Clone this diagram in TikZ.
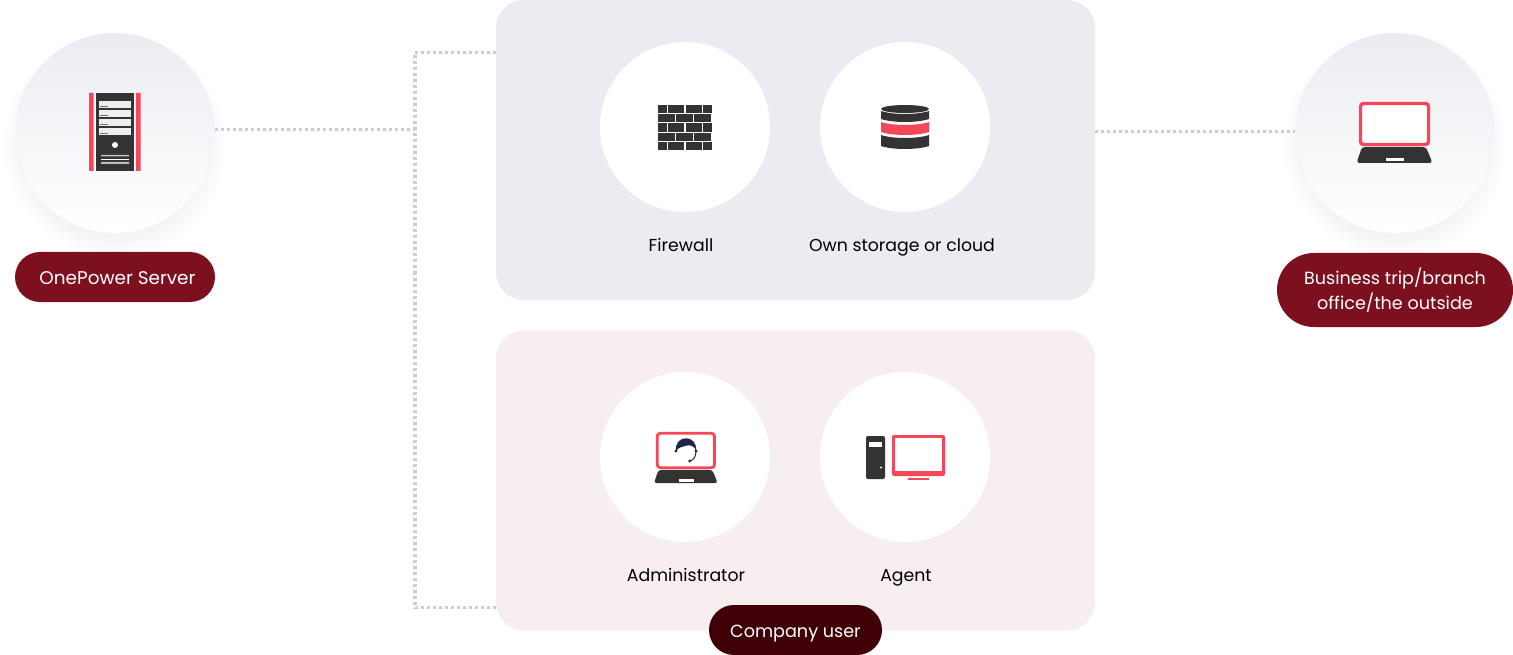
\documentclass[tikz,border=0pt]{standalone}
\usepackage{fontspec}
\setmainfont{Poppins}
\definecolor{PanelBlue}{HTML}{EBECF2}
\definecolor{PanelPink}{HTML}{F6EEEF}
\definecolor{PillRed}{HTML}{7D101F}
\definecolor{PillDark}{HTML}{3F0007}
\definecolor{IconRed}{HTML}{F44858}
\definecolor{IconDark}{HTML}{333333}
\definecolor{IconNavy}{HTML}{1F2547}
\definecolor{DotGrey}{HTML}{CDCDCD}
\tikzset{
  panel/.style={inner sep=0,outer sep=0,rounded corners=28pt,minimum width=599pt,minimum height=300pt},
  hubdisc/.style={circle,inner sep=0,outer sep=0,minimum size=200pt,top color=PanelBlue,bottom color=white},
  whitedisc/.style={circle,fill=white,inner sep=0,outer sep=0,minimum size=170pt},
  pill/.style={fill=PillRed,text=white,rounded corners=25pt,inner sep=0,outer sep=0,align=center,font=\fontsize{17.6}{25}\selectfont},
  caption/.style={text=black,inner sep=0,text height=13pt,text depth=4pt,font=\fontsize{17.3}{24}\selectfont},
  dotlink/.style={DotGrey,line width=3.2pt,dash pattern=on 3pt off 3pt}
}
% one laptop: origin at top left of the screen, 71 wide
\newcommand{\laptopicon}[3]{
  \begin{scope}[shift={(#1,#2)},scale=#3]
    \fill[white,draw=IconRed,line width=3.4pt*#3,rounded corners=3pt] (1.5,1.5) rectangle (69.5,42.5);
    \fill[IconDark,rounded corners=3pt] (3,45) -- (67,45) -- (73.5,61) -- (-2.5,61) -- cycle;
    \fill[white] (27,56.5) rectangle (45,59);
  \end{scope}}
% soft shadow under a big disc
\newcommand{\discshadow}[2]{
  \foreach \grow in {-8,-6,...,12}
    \fill[black,opacity=.005] (#1,#2+12) circle (100+\grow);
}
% one curved band of the storage drum
\newcommand{\drumband}[3]{
  \fill[#3] (881,#1) .. controls (893,#1+4) and (917,#1+4) .. (929,#1) -- (929,#2) .. controls (917,#2+4) and (893,#2+4) .. (881,#2) -- cycle;
}
\begin{document}
\begin{tikzpicture}[x=1pt,y=-1pt]
  \fill[white] (0,0) rectangle (1513,655);
  \useasboundingbox (0,0) rectangle (1513,655);
  \discshadow{115}{133}
  \discshadow{1395}{133}
  \node[hubdisc] (server) at (115,133) {};
  \node[hubdisc] (remote) at (1395,133) {};
  \node[panel,fill=PanelBlue] (upper) at (795.5,150) {};
  \node[panel,fill=PanelPink] (lower) at (795.5,480.5) {};
  \node[whitedisc] (firewall) at (685,127) {};
  \node[whitedisc] (storage) at (905,127) {};
  \node[whitedisc] (admin) at (685,457) {};
  \node[whitedisc] (agent) at (905,457) {};

  % links
  \coordinate (serverout) at (215,129.5);
  \coordinate (trunkmid) at (415,129.5);
  \coordinate (trunktop) at (415,52.5);
  \coordinate (trunkbot) at (415,607.5);
  \coordinate (upperin) at (496,52.5);
  \coordinate (lowerin) at (496,607.5);
  \coordinate (upperout) at (1095,131.5);
  \coordinate (remotein) at (1295,131.5);
  \draw[dotlink] (serverout) -- (trunkmid);
  \draw[dotlink] (upperin) -- (trunktop) -- (trunkbot) -- (lowerin);
  \draw[dotlink] (upperout) -- (remotein);

  % server tower
  \fill[IconRed] (89,93) rectangle (93.5,171) (136,93) rectangle (140.5,171);
  \fill[IconDark] (96,93) rectangle (134,171);
  \foreach \slot in {101,110,119,128} {
    \fill[white!93!black] (99,\slot) rectangle (131,\slot+7);
    \fill[IconDark!70] (100,\slot+5) rectangle (108,\slot+5.8);
  }
  \fill[white] (115,145) circle (3);
  \fill[white!75!black] (101,155) rectangle (129,156.5) (101,162) rectangle (129,164);
  \fill[white] (101,159) rectangle (129,160);

  % brick wall
  \foreach \top in {105,123.5,142}
    \foreach \from/\to in {658/666.7,667.7/684.3,685.7/702,703/711.5}
      \fill[IconDark] (\from,\top) rectangle (\to,\top+8.2);
  \foreach \top in {114.5,133}
    \foreach \from/\to in {658/675,676/693,694/711}
      \fill[IconDark] (\from,\top) rectangle (\to,\top+8);

  % storage drum
  \fill[IconDark] (905,109) ellipse (24 and 4);
  \drumband{111}{119}{IconDark}
  \drumband{122}{132}{IconRed}
  \drumband{135}{146}{IconDark}

  % laptops
  \laptopicon{1359}{102}{1}
  \laptopicon{656}{432}{.84}
  \fill[IconNavy] (676,451) .. controls (674,434) and (698,434) .. (696,451) .. controls (695,446) and (690,444) .. (685,446) .. controls (682,447) and (679,447) .. (676,451) -- cycle;
  \draw[IconNavy,line width=1pt] (696,451) .. controls (696,456) and (694,460) .. (690,461);
  \fill[IconNavy] (689.5,461) circle (1.5) (676,451) circle (1.7) (696,451) circle (1.7);

  % desktop
  \fill[IconDark,rounded corners=2pt] (866,436) rectangle (885,479);
  \fill[white] (869,441.5) rectangle (882,447);
  \fill[white] (881,467.5) circle (1.2);
  \fill[IconRed,rounded corners=2pt] (892,435) rectangle (945,476);
  \fill[white] (895,438) rectangle (942,470.5);
  \fill[IconRed] (908,477.5) rectangle (929,479.5);

  % texts
  \node[caption] (firewalltext) at (681,247) {Firewall};
  \node[caption] (storagetext) at (902,247) {Own storage or cloud};
  \node[caption] (admintext) at (686,577) {Administrator};
  \node[caption] (agenttext) at (906,577) {Agent};
  \node[pill,font=\fontsize{18.4}{25}\selectfont,minimum width=200pt,minimum height=50pt] (serverpill) at (115,277) {\rule{5pt}{0pt}\rule[-5pt]{0pt}{24pt}OnePower Server};
  \node[pill,rounded corners=37pt,minimum width=236pt,minimum height=74pt] (remotepill) at (1395,290) {Business trip/branch\\office/the outside};
  \node[pill,fill=PillDark,minimum width=173pt,minimum height=50pt] (userpill) at (795.5,630) {\rule[-5pt]{0pt}{24pt}Company user};
\end{tikzpicture}
\end{document}
